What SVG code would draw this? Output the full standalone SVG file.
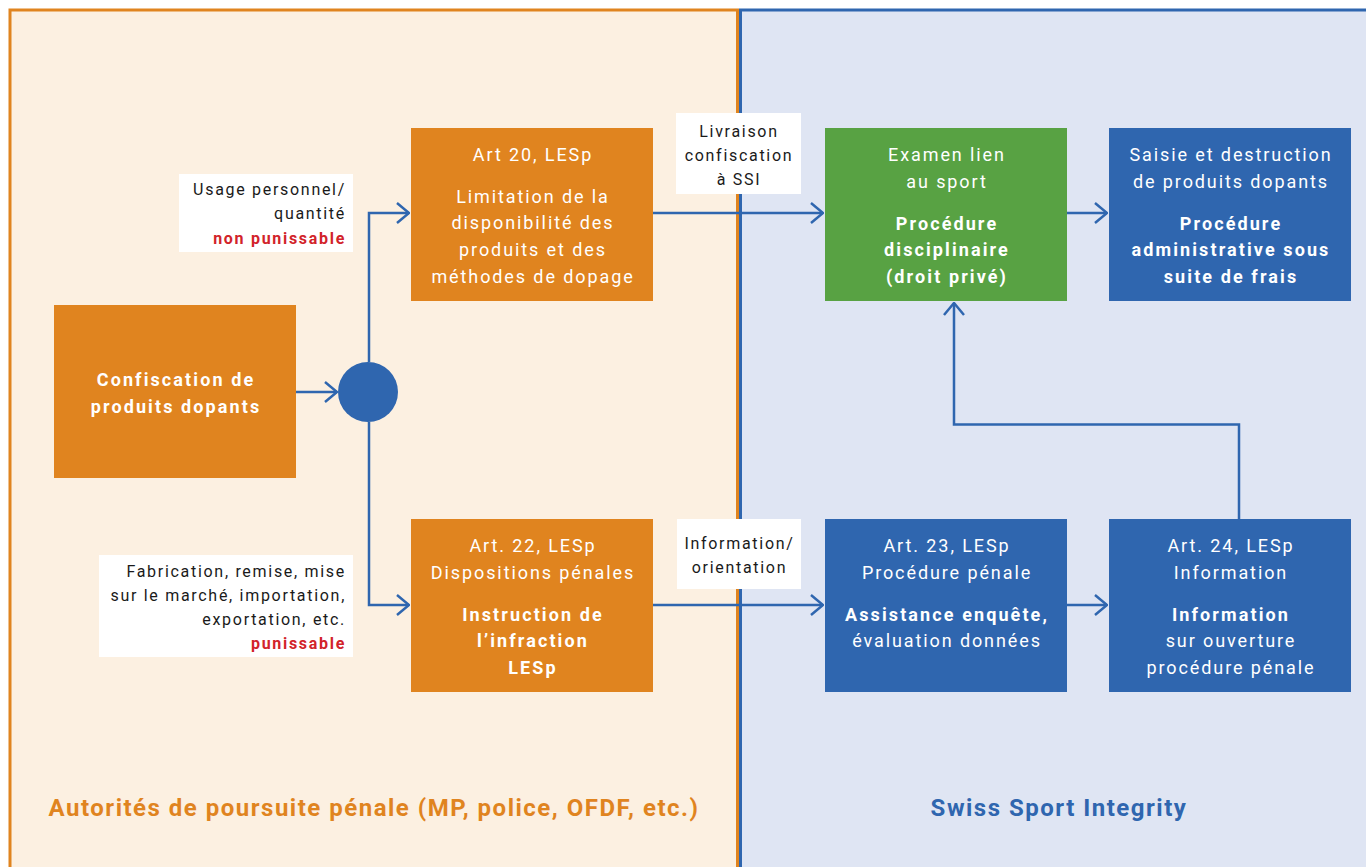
<svg xmlns="http://www.w3.org/2000/svg" width="1366" height="867" viewBox="0 0 1366 867">
<defs>
<style>
.t{font-family:Roboto,"Noto Sans","Liberation Sans",sans-serif;text-anchor:middle;fill:#ffffff;font-size:18px;letter-spacing:1.9px}
.b{font-weight:bold;letter-spacing:2.1px}
.l{font-family:Roboto,"Noto Sans","Liberation Sans",sans-serif;text-anchor:end;fill:#1a1a1a;font-size:16px;letter-spacing:1.7px}
.c{font-family:Roboto,"Noto Sans","Liberation Sans",sans-serif;text-anchor:middle;fill:#1a1a1a;font-size:16px;letter-spacing:1.7px}
.red{fill:#D2232A;font-weight:bold}
.or{fill:#E0841F}
.bl{fill:#2F66AF}
.gr{fill:#58A243}
.lab{fill:#ffffff}
.con{fill:none;stroke:#2F66AF;stroke-width:2.5}
.title{font-family:Roboto,"Noto Sans","Liberation Sans",sans-serif;text-anchor:middle;font-size:24px;font-weight:bold;letter-spacing:1.5px}
</style>
<marker id="ah" viewBox="0 0 14 22" refX="13" refY="11" markerWidth="14" markerHeight="22" markerUnits="userSpaceOnUse" orient="auto">
<path d="M1,1 L13,11 L1,21" fill="none" stroke="#2F66AF" stroke-width="2.5"/>
</marker>
</defs>

<g id="panels">
<rect x="10" y="10" width="727.5" height="900" fill="#FCF0E1" stroke="#E0841F" stroke-width="3"/>
<rect x="740.5" y="10" width="700" height="900" fill="#DFE5F3" stroke="#2F66AF" stroke-width="3"/>
<text class="title" x="374" y="816" fill="#E0841F">Autorités de poursuite pénale (MP, police, OFDF, etc.)</text>
<text class="title" x="1059" y="816" fill="#2F66AF">Swiss Sport Integrity</text>
</g>

<g id="connectors">
<line class="con" x1="296" y1="392" x2="337" y2="392" marker-end="url(#ah)"/>
<path class="con" d="M369,362 V213 H409" marker-end="url(#ah)"/>
<path class="con" d="M369,422 V605 H409" marker-end="url(#ah)"/>
<line class="con" x1="653" y1="213" x2="823" y2="213" marker-end="url(#ah)"/>
<line class="con" x1="1067" y1="213" x2="1107" y2="213" marker-end="url(#ah)"/>
<line class="con" x1="653" y1="605" x2="823" y2="605" marker-end="url(#ah)"/>
<line class="con" x1="1067" y1="605" x2="1107" y2="605" marker-end="url(#ah)"/>
<path class="con" d="M1239,519 V424.5 H954 V303" marker-end="url(#ah)"/>
</g>

<g id="label-usage">
<rect class="lab" x="179" y="174" width="174" height="78"/>
<text class="l" x="346" y="195">Usage personnel/</text>
<text class="l" x="346" y="219">quantité</text>
<text class="l red" x="346" y="244">non punissable</text>
</g>

<g id="label-fabrication">
<rect class="lab" x="99" y="555" width="254" height="102"/>
<text class="l" x="346" y="577">Fabrication, remise, mise</text>
<text class="l" x="346" y="601">sur le marché, importation,</text>
<text class="l" x="346" y="625">exportation, etc.</text>
<text class="l red" x="346" y="649">punissable</text>
</g>

<g id="label-livraison">
<rect class="lab" x="676" y="113" width="125" height="81"/>
<text class="c" x="739" y="137">Livraison</text>
<text class="c" x="739" y="161">confiscation</text>
<text class="c" x="739" y="185">à SSI</text>
</g>

<g id="label-information">
<rect class="lab" x="677" y="519" width="124" height="70"/>
<text class="c" x="739.5" y="549">Information/</text>
<text class="c" x="739.5" y="573">orientation</text>
</g>

<g id="node-confiscation">
<rect class="or" x="54" y="305" width="242" height="173"/>
<text class="t b" x="176" y="386">Confiscation de</text>
<text class="t b" x="176" y="413">produits dopants</text>
</g>

<g id="node-junction">
<circle cx="368" cy="392" r="30" fill="#2F66AF"/>
</g>

<g id="node-art20">
<rect class="or" x="411" y="128" width="242" height="173"/>
<text class="t" x="533" y="161">Art 20, LESp</text>
<text class="t" x="533" y="203">Limitation de la</text>
<text class="t" x="533" y="229">disponibilité des</text>
<text class="t" x="533" y="256">produits et des</text>
<text class="t" x="533" y="283">méthodes de dopage</text>
</g>

<g id="node-art22">
<rect class="or" x="411" y="519" width="242" height="173"/>
<text class="t" x="533" y="552">Art. 22, LESp</text>
<text class="t" x="533" y="579">Dispositions pénales</text>
<text class="t b" x="533" y="621">Instruction de</text>
<text class="t b" x="533" y="647">l’infraction</text>
<text class="t b" x="533" y="674">LESp</text>
</g>

<g id="node-examen">
<rect class="gr" x="825" y="128" width="242" height="173"/>
<text class="t" x="947" y="161">Examen lien</text>
<text class="t" x="947" y="188">au sport</text>
<text class="t b" x="947" y="230">Procédure</text>
<text class="t b" x="947" y="256">disciplinaire</text>
<text class="t b" x="947" y="283">(droit privé)</text>
</g>

<g id="node-saisie">
<rect class="bl" x="1109" y="128" width="242" height="173"/>
<text class="t" x="1231" y="161">Saisie et destruction</text>
<text class="t" x="1231" y="188">de produits dopants</text>
<text class="t b" x="1231" y="230">Procédure</text>
<text class="t b" x="1231" y="256">administrative sous</text>
<text class="t b" x="1231" y="283">suite de frais</text>
</g>

<g id="node-art23">
<rect class="bl" x="825" y="519" width="242" height="173"/>
<text class="t" x="947" y="552">Art. 23, LESp</text>
<text class="t" x="947" y="579">Procédure pénale</text>
<text class="t b" x="947" y="621">Assistance enquête,</text>
<text class="t" x="947" y="647">évaluation données</text>
</g>

<g id="node-art24">
<rect class="bl" x="1109" y="519" width="242" height="173"/>
<text class="t" x="1231" y="552">Art. 24, LESp</text>
<text class="t" x="1231" y="579">Information</text>
<text class="t b" x="1231" y="621">Information</text>
<text class="t" x="1231" y="647">sur ouverture</text>
<text class="t" x="1231" y="674">procédure pénale</text>
</g>
</svg>
